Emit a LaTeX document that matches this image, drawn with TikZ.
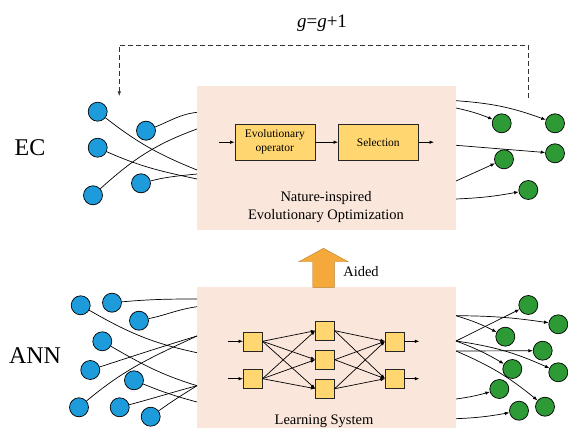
\documentclass[tikz,border=0pt]{standalone}
\usepackage{fontspec}
\setmainfont{Liberation Serif}
\usetikzlibrary{arrows.meta}

\definecolor{panelbg}{HTML}{FAE6DA}
\definecolor{blockyellow}{HTML}{FFD670}
\definecolor{neuronblue}{HTML}{1E9BDB}
\definecolor{neurongreen}{HTML}{2E9A35}
\definecolor{aidorange}{HTML}{F5A93A}

\begin{document}
\begin{tikzpicture}[
    x=1pt, y=1pt,
    every node/.style={font=\fontsize{14.5}{18}\selectfont, align=center},
    panel/.style={
        fill=panelbg,
        minimum width=259pt,
        minimum height=144pt,
        inner sep=0pt
    },
    block/.style={
        draw=black!85,
        fill=blockyellow,
        minimum width=80pt,
        minimum height=36pt,
        inner sep=0pt,
        font=\fontsize{11.5}{14}\selectfont
    },
    unit/.style={
        draw=black!85,
        fill=blockyellow,
        minimum size=19pt,
        inner sep=0pt
    },
    inneuron/.style={circle, draw, fill=neuronblue, minimum size=19pt, inner sep=0pt, line width=0.7pt},
    outneuron/.style={circle, draw, fill=neurongreen, minimum size=19pt, inner sep=0pt, line width=0.7pt},
    link/.style={line width=0.7pt},
    arrow/.style={
        -{Latex[length=4.5pt, width=3.5pt]},
        line width=0.7pt
    },
    feedback/.style={dash pattern=on 5pt off 3pt, line width=0.9pt, draw=black!80}
]
\useasboundingbox (0,0) rectangle (568,-428);

% panels
\node[panel] (ecpanel) at (326.5,-158) {};
\node[panel, minimum height=141pt] (annpanel) at (326.5,-357.5) {};

\node (eclabel) at (30,-148) {\fontsize{24}{28}\selectfont EC};
\node (annlabel) at (35,-356) {\fontsize{24}{28}\selectfont ANN};
\node (gen) at (322,-23) {\fontsize{19}{22}\selectfont {\itshape g}={\itshape g}+1};

% evolutionary optimization
\node[block] (evop) at (274.8,-142.2) {Evolutionary\\operator};
\node[block] (select) at (378.3,-142.2) {Selection};
\coordinate (evin) at (219,-142.2);
\coordinate (evout) at (434,-142.2);
\node (ectitle) at (326,-207) {Nature-inspired\\Evolutionary Optimization};

\draw[arrow] (evin) -- (evop);
\draw[arrow] (evop) -- (select);
\draw[arrow] (select) -- (evout);

\node[inneuron] (ecin1) at (97.7,-111.7) {};
\node[inneuron] (ecin2) at (146,-130.7) {};
\node[inneuron] (ecin3) at (97.7,-147.7) {};
\node[inneuron] (ecin4) at (93,-195.3) {};
\node[inneuron] (ecin5) at (141,-183.3) {};

\coordinate (ecl1) at (197,-170);
\coordinate (ecl2) at (197,-112.3);
\coordinate (ecl3) at (197,-179);
\coordinate (ecl4) at (197,-129);
\coordinate (ecl5) at (197,-174);

\draw[link] (ecin1) to[out=-38, in=158] (ecl1);
\draw[link] (ecin2) to[out=22, in=187] (ecl2);
\draw[link] (ecin3) to[out=-24, in=168] (ecl3);
\draw[link] (ecin4) to[out=42, in=200] (ecl4);
\draw[link] (ecin5) to[out=14, in=186] (ecl5);

\node[outneuron] (ecout1) at (501.7,-123.3) {};
\node[outneuron] (ecout2) at (555,-123.3) {};
\node[outneuron] (ecout3) at (555,-153.3) {};
\node[outneuron] (ecout4) at (504,-159.3) {};
\node[outneuron] (ecout5) at (528.3,-190) {};

\coordinate (ecr1) at (456,-100.7);
\coordinate (ecr2) at (456,-108);
\coordinate (ecr3) at (456,-145.3);
\coordinate (ecr4) at (456,-181);
\coordinate (ecr5) at (456,-199);

\draw[arrow] (ecr1) to[bend left=8] (ecout2);
\draw[arrow] (ecr2) to[bend left=5] (ecout1);
\draw[arrow] (ecr3) -- (ecout3);
\draw[arrow] (ecr4) -- (ecout4);
\draw[arrow] (ecr5) to[bend right=4] (ecout5);

% feedback loop
\coordinate (fbstart) at (528.3,-98);
\coordinate (fbtop) at (528.3,-45);
\coordinate (fbend) at (119.3,-96);
\draw[feedback, arrow] (fbstart) -- (fbtop) -| (fbend);

% aided
\draw[fill=aidorange, draw=aidorange!75!black, line width=0.4pt]
    (312.7,-287.3) -- (312.7,-261.7) -- (299,-261.7) -- (323.5,-248.3)
    -- (348,-261.7) -- (334.3,-261.7) -- (334.3,-287.3) -- cycle;
\node (aided) at (361,-271.7) {Aided};

% learning system
\node[unit] (in1) at (252.8,-341.3) {};
\node[unit] (in2) at (252.8,-378.7) {};
\node[unit] (hid1) at (325,-330.7) {};
\node[unit] (hid2) at (325,-359.7) {};
\node[unit] (hid3) at (325,-388.7) {};
\node[unit] (out1) at (394.7,-341.3) {};
\node[unit] (out2) at (394.7,-378.7) {};
\coordinate (x1) at (227.7,-341.3);
\coordinate (x2) at (227.7,-378.7);
\coordinate (y1) at (419.3,-341.3);
\coordinate (y2) at (419.3,-378.7);
\node (anntitle) at (324,-421.7) {Learning System};

\draw[arrow] (x1) -- (in1);
\draw[arrow] (x2) -- (in2);
\draw[arrow] (in1.east) -- (hid1.west);
\draw[arrow] (in1.east) -- (hid2.west);
\draw[arrow] (in1.east) -- (hid3.west);
\draw[arrow] (in2.east) -- (hid1.west);
\draw[arrow] (in2.east) -- (hid2.west);
\draw[arrow] (in2.east) -- (hid3.west);
\draw[arrow] (hid1.east) -- (out1.west);
\draw[arrow] (hid1.east) -- (out2.west);
\draw[arrow] (hid2.east) -- (out1.west);
\draw[arrow] (hid2.east) -- (out2.west);
\draw[arrow] (hid3.east) -- (out1.west);
\draw[arrow] (hid3.east) -- (out2.west);
\draw[arrow] (out1) -- (y1);
\draw[arrow] (out2) -- (y2);

\node[inneuron] (annin1) at (80.7,-305.3) {};
\node[inneuron] (annin2) at (112,-302.7) {};
\node[inneuron] (annin3) at (139,-320.7) {};
\node[inneuron] (annin4) at (102.3,-341.3) {};
\node[inneuron] (annin5) at (90.3,-370) {};
\node[inneuron] (annin6) at (134,-380.3) {};
\node[inneuron] (annin7) at (79,-407.3) {};
\node[inneuron] (annin8) at (119.7,-407.3) {};
\node[inneuron] (annin9) at (150.7,-416.7) {};

\coordinate (annl1) at (197,-299);
\coordinate (annl2) at (197,-306.7);
\coordinate (annl3) at (197,-336);
\coordinate (annl4) at (197,-352.7);
\coordinate (annl5) at (197,-385.7);
\coordinate (annl6) at (197,-402);

\draw[link] (annin2) to[out=5, in=180] (annl1);
\draw[link] (annin3) to[out=12, in=188] (annl2);
\draw[link] (annin1) to[out=-30, in=168] (annl4);
\draw[link] (annin4) to[out=-30, in=163] (annl5);
\draw[link] (annin5) to[out=18, in=197] (annl3);
\draw[link] (annin7) to[out=40, in=205] (annl3);
\draw[link] (annin6) to[out=-22, in=165] (annl6);
\draw[link] (annin8) to[out=15, in=195] (annl5);
\draw[link] (annin9) to[out=36, in=212] (annl5);

\node[outneuron] (annout1) at (528.3,-305) {};
\node[outneuron] (annout2) at (558.3,-324.3) {};
\node[outneuron] (annout3) at (505.3,-336.7) {};
\node[outneuron] (annout4) at (542.7,-350.7) {};
\node[outneuron] (annout5) at (558.3,-372.3) {};
\node[outneuron] (annout6) at (512.3,-369) {};
\node[outneuron] (annout7) at (499.3,-389) {};
\node[outneuron] (annout8) at (545,-406.7) {};
\node[outneuron] (annout9) at (519,-410.7) {};

\coordinate (annr1) at (456,-315.7);
\coordinate (annr2) at (456,-341);
\coordinate (annr3) at (456,-351);
\coordinate (annr4) at (456,-399);
\coordinate (annr5) at (456,-418.7);

\draw[arrow] (annr1) to[bend left=4] (annout2);
\draw[arrow] (annr1) to[bend left=5] (annout3);
\draw[arrow] (annr2) -- (annout1);
\draw[arrow] (annr2) to[bend left=5] (annout6);
\draw[arrow] (annr2) to[bend left=8] (annout5);
\draw[arrow] (annr3) -- (annout4);
\draw[arrow] (annr3) to[bend left=8] (annout8);
\draw[arrow] (annr4) to[bend right=4] (annout7);
\draw[arrow] (annr5) to[bend right=4] (annout9);

\end{tikzpicture}
\end{document}
